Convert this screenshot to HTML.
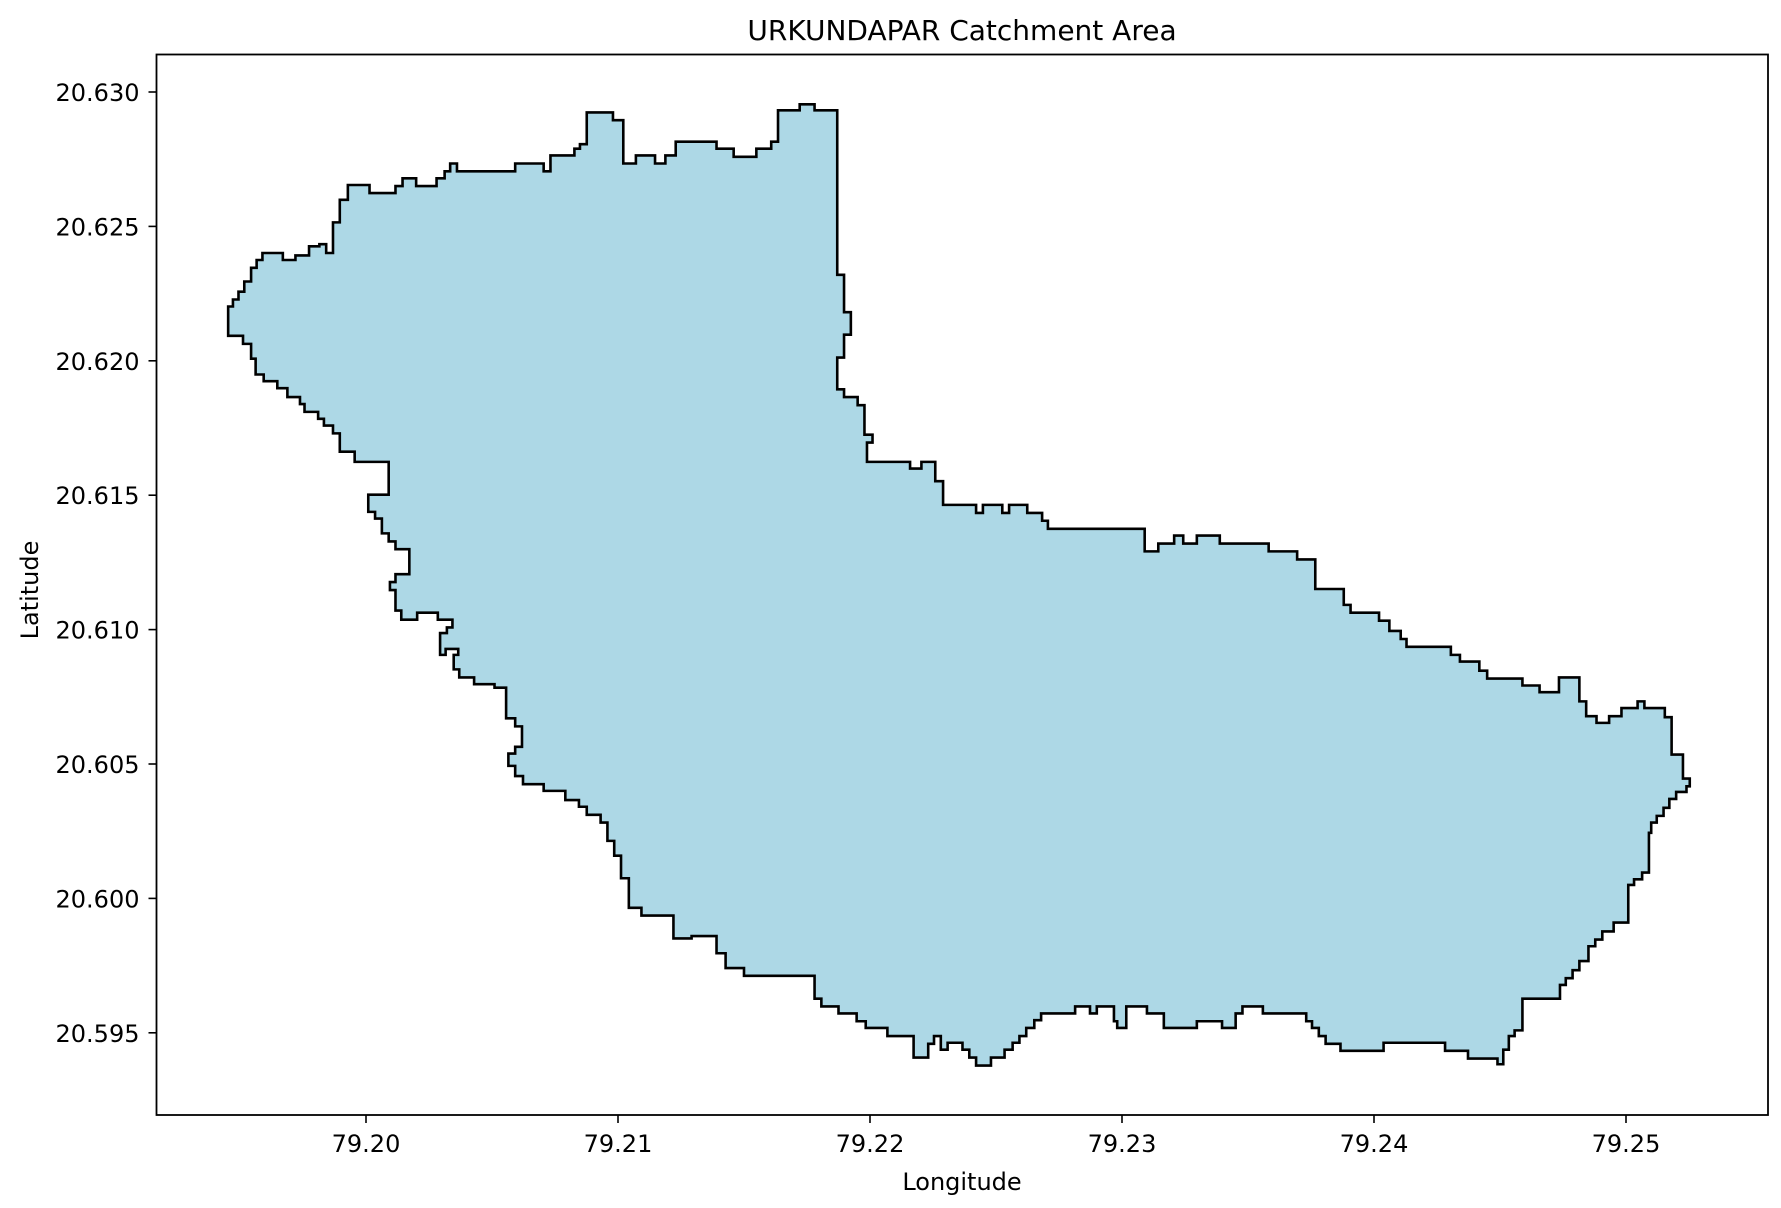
<!DOCTYPE html>
<html><head><meta charset="utf-8">
<style>
html,body{margin:0;padding:0;background:#fff;}
svg{display:block;font-family:"DejaVu Sans","Liberation Sans",sans-serif;}
</style></head>
<body>
<svg id="chart" width="1781" height="1208" viewBox="0 0 1781 1208" xmlns="http://www.w3.org/2000/svg">
<rect width="1781" height="1208" fill="#fff"/>
<text x="962" y="40" font-size="28" text-anchor="middle" fill="#000">URKUNDAPAR Catchment Area</text>
<g id="plot"></g>
<g id="axes"></g>
<text x="962" y="1190" font-size="24" text-anchor="middle" fill="#000">Longitude</text>
<text transform="translate(38,590) rotate(-90)" font-size="24" text-anchor="middle" fill="#000">Latitude</text>
</svg>
<script>
const xTicks = [79.20, 79.21, 79.22, 79.23, 79.24, 79.25];
const xTickLabels = ["79.20", "79.21", "79.22", "79.23", "79.24", "79.25"];
const yTicks = [20.630, 20.625, 20.620, 20.615, 20.610, 20.605, 20.600, 20.595];
const yTickLabels = ["20.630", "20.625", "20.620", "20.615", "20.610", "20.605", "20.600", "20.595"];
// staircase outline: from vertex k-1 move vertically to lat[k], then horizontally to lon[k]
const boundaryLon = [
79.19453,79.19472,79.19494,79.19517,79.19544,79.19566,79.19589,79.19670,79.19720,79.19774,
79.19815,79.19842,79.19869,79.19896,79.19928,79.20014,79.20117,79.20145,79.20199,79.20280,
79.20312,79.20334,79.20361,79.20592,79.20705,79.20732,79.20827,79.20849,79.20876,79.20980,
79.21021,79.21071,79.21147,79.21188,79.21229,79.21391,79.21459,79.21549,79.21608,79.21635,
79.21721,79.21780,79.21870,79.21897,79.21924,79.21897,79.21870,79.21897,79.21951,79.21978,
79.22010,79.21988,79.22159,79.22204,79.22259,79.22290,79.22421,79.22448,79.22525,79.22552,
79.22624,79.22683,79.22706,79.23090,79.23144,79.23207,79.23243,79.23297,79.23388,79.23582,
79.23695,79.23767,79.23880,79.23907,79.24020,79.24061,79.24106,79.24129,79.24305,79.24341,
79.24418,79.24449,79.24589,79.24657,79.24734,79.24815,79.24842,79.24883,79.24933,79.24982,
79.25046,79.25073,79.25154,79.25181,79.25226,79.25253,79.25240,79.25199,79.25172,79.25149,
79.25122,79.25100,79.25091,79.25064,79.25032,79.25009,79.24951,79.24906,79.24878,79.24851,
79.24815,79.24788,79.24761,79.24738,79.24589,79.24558,79.24535,79.24513,79.24490,79.24373,
79.24282,79.24038,79.23867,79.23808,79.23781,79.23754,79.23731,79.23559,79.23478,79.23451,
79.23397,79.23297,79.23166,79.23099,79.23017,79.22981,79.22968,79.22900,79.22873,79.22814,
79.22679,79.22652,79.22620,79.22593,79.22566,79.22534,79.22480,79.22421,79.22394,79.22367,
79.22308,79.22281,79.22254,79.22231,79.22173,79.22069,79.21983,79.21947,79.21875,79.21807,
79.21780,79.21500,79.21427,79.21391,79.21292,79.21220,79.21093,79.21043,79.21012,79.20985,
79.20958,79.20931,79.20876,79.20845,79.20791,79.20705,79.20623,79.20592,79.20565,79.20592,
79.20619,79.20592,79.20556,79.20510,79.20429,79.20370,79.20348,79.20366,79.20316,79.20294,
79.20321,79.20343,79.20285,79.20203,79.20140,79.20117,79.20095,79.20117,79.20172,79.20117,
79.20090,79.20063,79.20036,79.20009,79.20090,79.19955,79.19896,79.19869,79.19833,79.19810,
79.19756,79.19738,79.19688,79.19648,79.19594,79.19562,79.19544,79.19512,79.19453
];
const boundaryLat = [
20.62093,20.62202,20.62228,20.62257,20.62295,20.62346,20.62375,20.62401,20.62375,20.62392,
20.62426,20.62434,20.62401,20.62515,20.62599,20.62654,20.62624,20.62650,20.62679,20.62650,
20.62679,20.62705,20.62734,20.62705,20.62734,20.62705,20.62764,20.62789,20.62806,20.62924,
20.62895,20.62734,20.62764,20.62734,20.62764,20.62815,20.62789,20.62759,20.62789,20.62815,
20.62932,20.62954,20.62932,20.62320,20.62181,20.62097,20.62012,20.61894,20.61865,20.61835,
20.61725,20.61696,20.61624,20.61599,20.61624,20.61552,20.61464,20.61434,20.61464,20.61434,
20.61464,20.61434,20.61405,20.61375,20.61291,20.61320,20.61350,20.61320,20.61350,20.61320,
20.61291,20.61261,20.61151,20.61092,20.61063,20.61033,20.60995,20.60965,20.60936,20.60906,
20.60881,20.60847,20.60818,20.60792,20.60767,20.60822,20.60733,20.60678,20.60653,20.60678,
20.60708,20.60733,20.60708,20.60674,20.60535,20.60446,20.60417,20.60396,20.60370,20.60337,
20.60307,20.60282,20.60244,20.60096,20.60071,20.60050,20.59910,20.59877,20.59847,20.59822,
20.59767,20.59733,20.59703,20.59678,20.59627,20.59509,20.59488,20.59437,20.59383,20.59404,
20.59433,20.59463,20.59433,20.59459,20.59488,20.59518,20.59543,20.59572,20.59598,20.59572,
20.59518,20.59543,20.59518,20.59572,20.59598,20.59518,20.59543,20.59598,20.59572,20.59598,
20.59572,20.59547,20.59518,20.59488,20.59463,20.59437,20.59408,20.59378,20.59408,20.59437,
20.59463,20.59437,20.59488,20.59459,20.59408,20.59488,20.59518,20.59543,20.59572,20.59598,
20.59627,20.59712,20.59741,20.59796,20.59860,20.59851,20.59936,20.59965,20.60075,20.60159,
20.60214,20.60282,20.60311,20.60341,20.60366,20.60400,20.60425,20.60455,20.60493,20.60539,
20.60564,20.60640,20.60670,20.60784,20.60797,20.60822,20.60852,20.60906,20.60928,20.60906,
20.60987,20.61008,20.61037,20.61063,20.61037,20.61071,20.61147,20.61177,20.61206,20.61299,
20.61328,20.61358,20.61413,20.61438,20.61502,20.61624,20.61662,20.61730,20.61759,20.61784,
20.61810,20.61839,20.61865,20.61898,20.61924,20.61949,20.62008,20.62063,20.62093
];

const NS = "http://www.w3.org/2000/svg";
const AX = {left:156.5, right:1768, top:54.5, bottom:1115};
function xScale(lon){ return 366 + (lon - 79.20) * 25200; }
function yScale(lat){ return 92 + (20.630 - lat) * 26880; }

const plot = document.getElementById('plot');
let d = "M" + xScale(boundaryLon[0]).toFixed(2) + "," + yScale(boundaryLat[0]).toFixed(2);
for (let k = 1; k < boundaryLon.length; k++) {
  d += " V" + yScale(boundaryLat[k]).toFixed(2) + " H" + xScale(boundaryLon[k]).toFixed(2);
}
d += " Z";
const poly = document.createElementNS(NS, 'path');
poly.setAttribute('d', d);
poly.setAttribute('fill', '#add8e6');
poly.setAttribute('stroke', '#000');
poly.setAttribute('stroke-width', '2.6');
poly.setAttribute('stroke-linejoin', 'miter');


plot.appendChild(poly);

const axes = document.getElementById('axes');
const frame = document.createElementNS(NS, 'rect');
frame.setAttribute('x', AX.left); frame.setAttribute('y', AX.top);
frame.setAttribute('width', AX.right - AX.left); frame.setAttribute('height', AX.bottom - AX.top);
frame.setAttribute('fill', 'none'); frame.setAttribute('stroke', '#000'); frame.setAttribute('stroke-width', '1.8');


axes.appendChild(frame);

xTicks.forEach((v, i) => {
  const x = xScale(v);
  const t = document.createElementNS(NS, 'line');
  t.setAttribute('x1', x); t.setAttribute('x2', x); t.setAttribute('y1', AX.bottom); t.setAttribute('y2', AX.bottom + 8);
  t.setAttribute('stroke', '#000'); t.setAttribute('stroke-width', '1.6');
  
  
  axes.appendChild(t);
  const lb = document.createElementNS(NS, 'text');
  lb.setAttribute('x', x); lb.setAttribute('y', AX.bottom + 37);
  lb.setAttribute('text-anchor', 'middle'); lb.setAttribute('font-size', '24');
  lb.textContent = xTickLabels[i];
  
  
  axes.appendChild(lb);
});
yTicks.forEach((v, i) => {
  const y = yScale(v);
  const t = document.createElementNS(NS, 'line');
  t.setAttribute('x1', AX.left - 8); t.setAttribute('x2', AX.left); t.setAttribute('y1', y); t.setAttribute('y2', y);
  t.setAttribute('stroke', '#000'); t.setAttribute('stroke-width', '1.6');
  
  
  axes.appendChild(t);
  const lb = document.createElementNS(NS, 'text');
  lb.setAttribute('x', AX.left - 17); lb.setAttribute('y', y + 9);
  lb.setAttribute('text-anchor', 'end'); lb.setAttribute('font-size', '24');
  lb.textContent = yTickLabels[i];
  
  
  axes.appendChild(lb);
});
</script>
</body></html>
